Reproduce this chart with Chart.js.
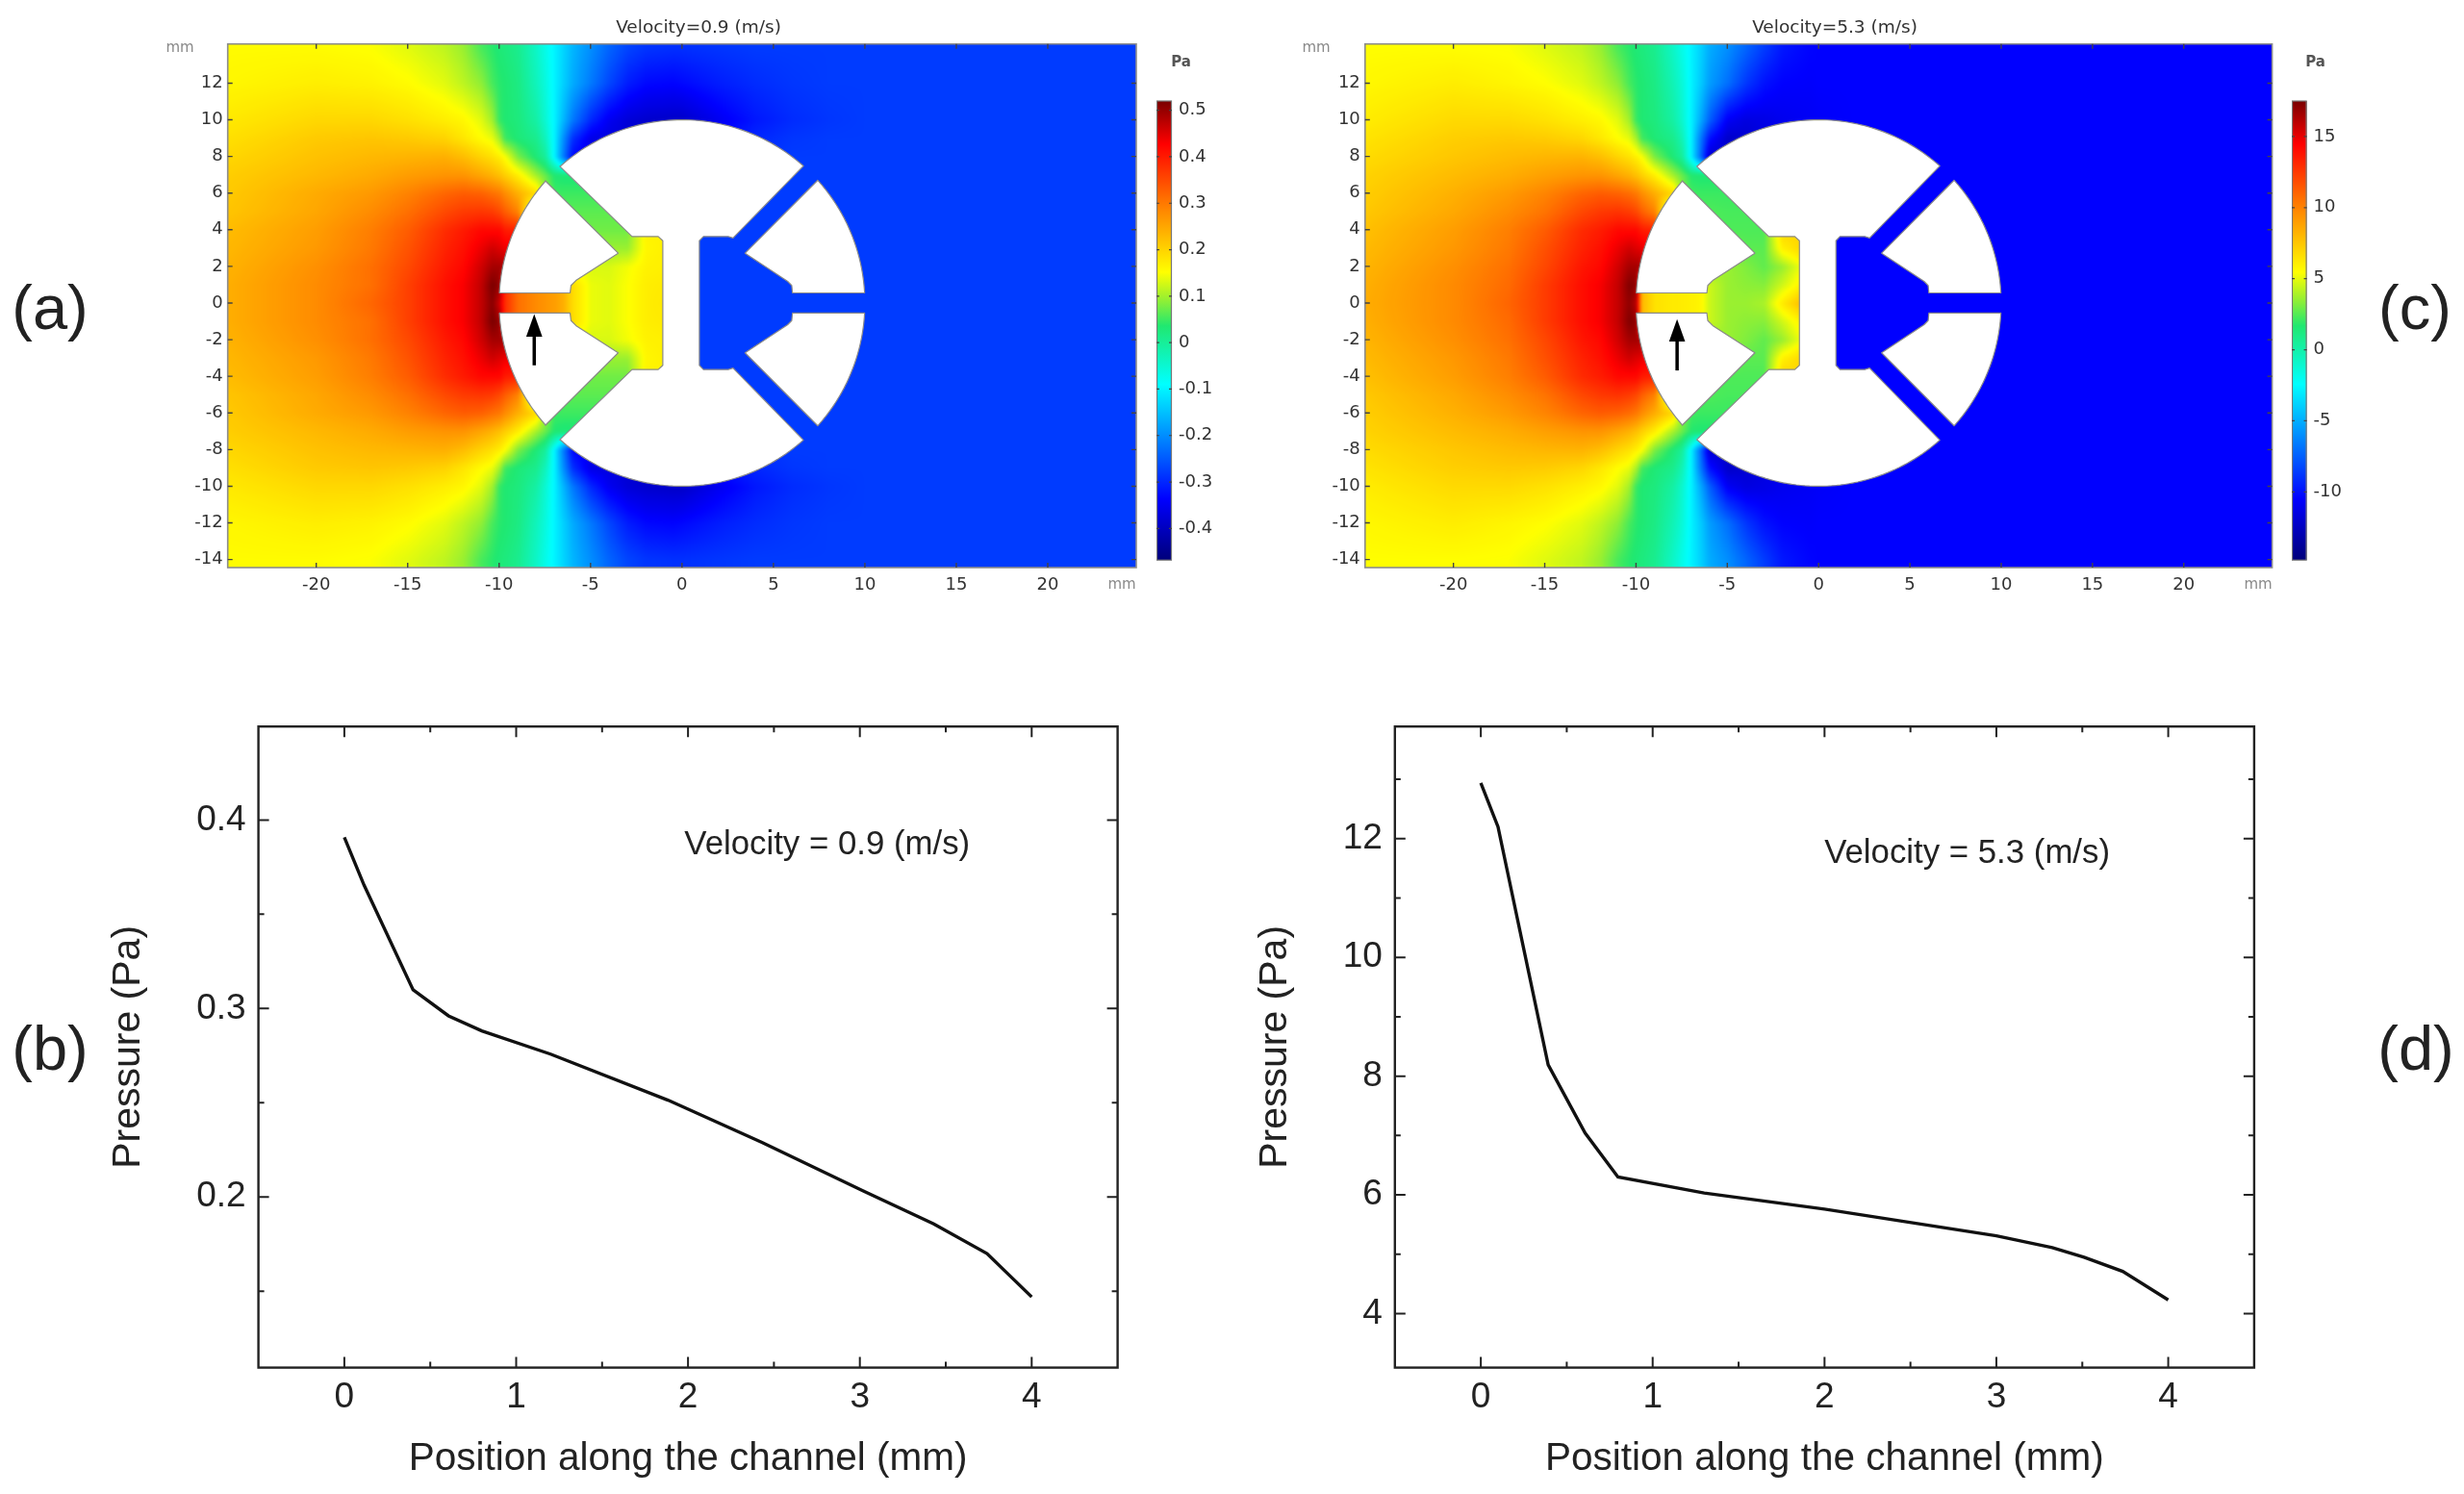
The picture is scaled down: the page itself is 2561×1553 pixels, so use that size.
<!DOCTYPE html>
<html>
<head>
<meta charset="utf-8">
<title>Pressure field and channel pressure</title>
<script src="https://cdn.jsdelivr.net/npm/chart.js@4"></script>
<style>
html,body{margin:0;padding:0;background:#fff;width:2561px;height:1553px;overflow:hidden}
canvas{position:absolute;filter:blur(0.6px)}
.panel{position:absolute;font:65px "Liberation Sans",Arial,sans-serif;color:#222;transform:translate(-50%,-50%);filter:blur(0.5px);white-space:nowrap}
</style>
</head>
<body>
<canvas id="chartA"></canvas><canvas id="barA"></canvas>
<canvas id="chartC"></canvas><canvas id="barC"></canvas>
<canvas id="chartB"></canvas><canvas id="chartD"></canvas>
<div class="panel" style="left:52px;top:319px">(a)</div>
<div class="panel" style="left:52px;top:1089px">(b)</div>
<div class="panel" style="left:2510px;top:319px">(c)</div>
<div class="panel" style="left:2511px;top:1089px">(d)</div>
<script>
// ---- line plots: values ----
const positionB = [0, 0.114, 0.40, 0.606, 0.80, 1.20, 1.883, 2.43, 3.02, 3.43, 3.74, 4.0];
const pressureB = [0.3908, 0.3656, 0.3099, 0.2961, 0.2881, 0.2758, 0.2514, 0.2290, 0.2032, 0.1857, 0.1700, 0.1470];
const positionD = [0, 0.10, 0.392, 0.607, 0.798, 1.30, 2.0, 3.0, 3.325, 3.51, 3.735, 4.0];
const pressureD = [12.94, 12.2, 8.19, 7.04, 6.30, 6.03, 5.76, 5.31, 5.11, 4.95, 4.71, 4.23];
const linePosTicks = [0, 1, 2, 3, 4];
const linePosMinor = [0.5, 1.5, 2.5, 3.5];
const pressureTicksB = [0.2, 0.3, 0.4];
const pressureMinorB = [0.15, 0.25, 0.35];
const pressureTicksD = [4, 6, 8, 10, 12];
const pressureMinorD = [5, 7, 9, 11, 13];

// ---- field maps: tick labels ----
const fieldXTicks = [-20, -15, -10, -5, 0, 5, 10, 15, 20];
const fieldYTicks = [-14, -12, -10, -8, -6, -4, -2, 0, 2, 4, 6, 8, 10, 12];
const barTicksA = [-0.4, -0.3, -0.2, -0.1, 0, 0.1, 0.2, 0.3, 0.4, 0.5];
const barTicksC = [-10, -5, 0, 5, 10, 15];

// ---- field maps: pressure (Pa) estimated by colour at these sample positions (mm), mirrored about y = 0 ----
const sampleX = [-25,-20,-17,-15,-13,-12,-11,-10.4,-10,-9.7,-9,-8,-7.5,-7,-6.5,-6,-5,-4,-3,-2,-0.5,0,2,4,6,8,10,25];
const sampleY = [0,1,2,3,4,5,6,7,8,9,10,12,14];
const fieldA = [
[.24,.28,.32,.36,.41,.43,.47,.51,.46,.38,.31,.28,.27,.26,.24,.19,.14,.135,.15,.17,.18,-.28,-.28,-.28,-.28,-.28,-.28,-.28],
[.24,.28,.31,.36,.41,.43,.47,.52,.50,.38,.31,.28,.27,.26,.24,.19,.14,.135,.15,.17,.175,-.28,-.28,-.28,-.28,-.28,-.28,-.28],
[.235,.275,.31,.35,.40,.42,.46,.49,.49,.49,.30,.28,.27,.26,.22,.14,.13,.13,.145,.165,.17,-.28,-.28,-.28,-.28,-.28,-.28,-.28],
[.23,.265,.30,.34,.39,.41,.44,.46,.45,.44,.43,.13,.13,.13,.13,.13,.10,.095,.095,.16,.17,-.28,-.28,-.28,-.28,-.28,-.28,-.28],
[.225,.26,.295,.33,.38,.40,.42,.42,.42,.40,.39,.075,.075,.075,.075,.075,.075,.075,.075,.165,.165,-.28,-.28,-.28,-.28,-.28,-.28,-.28],
[.215,.25,.28,.31,.35,.365,.37,.365,.35,.33,.29,.065,.065,.065,.065,.065,.065,.065,.065,.065,.065,-.28,-.28,-.28,-.28,-.28,-.28,-.28],
[.21,.245,.265,.29,.32,.33,.325,.31,.30,.28,.24,.19,.10,.05,.05,.05,.05,.05,.05,.05,.05,-.28,-.28,-.28,-.28,-.28,-.28,-.28],
[.205,.23,.245,.26,.27,.27,.25,.235,.22,.205,.17,.10,.07,.035,.03,.03,.03,.03,.03,.03,.03,-.28,-.28,-.28,-.28,-.28,-.28,-.28],
[.195,.22,.23,.235,.24,.225,.20,.185,.17,.15,.08,.03,.00,-.10,-.22,-.33,-.36,-.38,-.38,-.38,-.38,-.38,-.30,-.29,-.28,-.28,-.28,-.28],
[.185,.21,.215,.21,.20,.18,.155,.14,.10,.05,.03,.01,-.03,-.10,-.20,-.29,-.36,-.37,-.38,-.38,-.38,-.38,-.32,-.30,-.285,-.28,-.28,-.28],
[.175,.195,.195,.185,.17,.16,.135,.10,.045,.035,.025,-.01,-.05,-.10,-.16,-.22,-.30,-.35,-.375,-.385,-.39,-.39,-.35,-.315,-.295,-.285,-.28,-.28],
[.16,.17,.165,.155,.135,.115,.09,.055,.04,.035,.02,-.03,-.06,-.10,-.135,-.17,-.22,-.27,-.31,-.33,-.335,-.33,-.31,-.295,-.285,-.28,-.28,-.28],
[.155,.155,.15,.135,.115,.095,.055,.04,.03,.025,.01,-.04,-.07,-.10,-.13,-.16,-.20,-.24,-.27,-.285,-.29,-.29,-.285,-.28,-.28,-.28,-.28,-.28]
];
const fieldC = [
[8.4,9.7,11,12.4,14,14.6,15.8,17,16,8,6.5,6.2,6.1,6,5.8,4.5,3.6,3.6,3.9,6.2,8.6,-10.5,-10.5,-10.5,-10.5,-10.5,-10.5,-10.5],
[8.3,9.7,10.8,12.4,14,14.6,15.8,17.3,17,8,6.5,6.2,6.1,6,5.8,4.5,3.6,3.4,3.3,4.6,6.5,-10.5,-10.5,-10.5,-10.5,-10.5,-10.5,-10.5],
[8.1,9.5,10.6,12,13.7,14.2,15.5,16.5,16.5,16.5,5,5,5,5,4.5,3.6,3.6,3.2,2.7,3.6,6,-10.5,-10.5,-10.5,-10.5,-10.5,-10.5,-10.5],
[7.9,9.2,10.3,11.7,13.3,13.9,14.9,15.5,15.2,15,14.5,3,3,3,3,3,3,2.6,2.6,6,7.2,-10.5,-10.5,-10.5,-10.5,-10.5,-10.5,-10.5],
[7.7,9,10.1,11.3,13,13.5,14.2,14.2,14.2,13.6,13.2,2.4,2.4,2.4,2.4,2.4,2.4,2.4,2.4,7,7.2,-10.5,-10.5,-10.5,-10.5,-10.5,-10.5,-10.5],
[7.4,8.6,9.6,10.5,12,12.5,12.7,12.4,12,11.2,10,2.4,2.4,2.4,2.4,2.4,2.3,2.3,2.3,2.3,2.3,-10.5,-10.5,-10.5,-10.5,-10.5,-10.5,-10.5],
[7.2,8.3,9.1,9.9,11,11.3,11.1,10.7,10.3,9.6,8.4,6.8,3.5,2.2,2.1,2.1,2.1,2.1,2.1,2.1,2.1,-10.5,-10.5,-10.5,-10.5,-10.5,-10.5,-10.5],
[7,7.9,8.4,8.9,9.3,9.3,8.7,8.2,7.7,7.1,6,3.8,2.8,1.7,1.6,1.6,1.6,1.6,1.6,1.6,1.6,-10.5,-10.5,-10.5,-10.5,-10.5,-10.5,-10.5],
[6.7,7.5,7.9,8.1,8.2,7.8,7,6.5,6,5.4,3.1,1.5,.5,-2.8,-7,-12,-12,-12,-11,-11,-11,-10.7,-10.5,-10.5,-10.5,-10.5,-10.5,-10.5],
[6.4,7.2,7.4,7.3,6.9,6.3,5.5,5,3.8,2.2,1.5,.9,-.3,-2.8,-6.5,-10,-12.2,-12,-11.5,-11,-10.8,-10.7,-10.5,-10.5,-10.5,-10.5,-10.5,-10.5],
[6.1,6.8,6.8,6.5,6,5.7,4.9,3.8,2,1.6,1.3,.2,-1,-2.8,-5,-7.5,-10.8,-11.5,-11.3,-11,-10.8,-10.7,-10.5,-10.5,-10.5,-10.5,-10.5,-10.5],
[5.7,6.1,5.8,5.5,4.9,4.3,3.4,2.3,1.8,1.6,1.1,-.3,-1.3,-2.8,-4,-5.5,-7,-8.8,-10,-10.5,-10.6,-10.5,-10.5,-10.5,-10.5,-10.5,-10.5,-10.5],
[5.5,5.5,5.4,4.9,4.3,3.6,2.3,1.8,1.5,1.3,.8,-.8,-1.8,-2.8,-3.8,-5,-6,-7.3,-8.6,-9.8,-10.4,-10.5,-10.5,-10.5,-10.5,-10.5,-10.5,-10.5]
];
const barRangeA = [-0.468, 0.52];
const barRangeC = [-14.8, 17.5];

// ---- rainbow colour table ----
const cmapPos = [0, 0.133, 0.383, 0.51, 0.57, 0.627, 0.77, 0.906, 1];
const cmapCol = ['#00007a', '#0000ff', '#00ffff', '#20e870', '#9af030', '#ffff00', '#ff8000', '#ff0000', '#7a0000'];

// ---- device outline in mm (white solid parts) ----
const centreSolidTop = [[-6.68,7.46],[-2.73,3.63],[-1.3,3.63],[-1.05,3.4],[-1.05,-3.4],[-1.3,-3.63],[-2.73,-3.63],[-6.68,-7.46]];
const centreSolidBottom = [[6.62,-7.46],[2.79,-3.55],[2.53,-3.63],[1.17,-3.63],[0.95,-3.4],[0.95,3.4],[1.17,3.63],[2.53,3.63],[2.79,3.55],[6.62,7.46]];
const leftSector = [[-7.47,6.67],[-3.49,2.72],[-5.8,1.23],[-6.07,0.96],[-6.12,0.55],[-9.98,0.55]];
const rightSector = [[7.39,6.67],[3.45,2.72],[5.78,1.18],[6.0,0.96],[6.04,0.55],[9.98,0.55]];
const arrowA = {x:-8.08, tip:-0.61, neck:-1.84, tail:-3.4, half:0.44};
const arrowC = {x:-7.75, tip:-0.88, neck:-2.1, tail:-3.68, half:0.44};

const SANS = '"Liberation Sans", Arial, sans-serif';
const DEJA = '"DejaVu Sans", sans-serif';

function hex(c){return [1,3,5].map(i=>parseInt(c.substr(i,2),16));}
const LUT = (function(){
  const n=1024, out=new Uint8ClampedArray(n*3);
  for(let i=0;i<n;i++){
    const t=i/(n-1); let k=0;
    while(k<cmapPos.length-2 && t>cmapPos[k+1])k++;
    const f=(t-cmapPos[k])/(cmapPos[k+1]-cmapPos[k]);
    const a=hex(cmapCol[k]),b=hex(cmapCol[k+1]);
    for(let j=0;j<3;j++)out[i*3+j]=a[j]+(b[j]-a[j])*f;
  }
  return out;
})();
function locate(arr,v){
  if(v<=arr[0])return [0,0];
  if(v>=arr[arr.length-1])return [arr.length-2,1];
  let i=0; while(v>arr[i+1])i++;
  return [i,(v-arr[i])/(arr[i+1]-arr[i])];
}
function text(ctx,s,x,y,font,color,align){
  ctx.save();ctx.font=font;ctx.fillStyle=color;ctx.textAlign=align||'center';ctx.textBaseline='middle';
  ctx.fillText(s,x,y);ctx.restore();
}
function placeCanvas(id,l,t,r,b){
  const c=document.getElementById(id);
  c.width=Math.round(r-l);c.height=Math.round(b-t);
  c.style.left=l+'px';c.style.top=t+'px';c.style.width=c.width+'px';c.style.height=c.height+'px';
  return c;
}
function setTicks(arr){return s=>{s.ticks=arr.map(v=>({value:v}));};}
function innerTicks(ctx,ca,xs,ys,sx,sy,len,width,color){
  ctx.save();ctx.strokeStyle=color;ctx.lineWidth=width;ctx.beginPath();
  xs.forEach(v=>{const p=sx.getPixelForValue(v);
    ctx.moveTo(p,ca.top);ctx.lineTo(p,ca.top+len);ctx.moveTo(p,ca.bottom);ctx.lineTo(p,ca.bottom-len);});
  ys.forEach(v=>{const p=sy.getPixelForValue(v);
    ctx.moveTo(ca.left,p);ctx.lineTo(ca.left+len,p);ctx.moveTo(ca.right,p);ctx.lineTo(ca.right-len,p);});
  ctx.stroke();ctx.restore();
}

// ---- field map panel ----
function fieldChart(cfg){
  const range=cfg.range, span=range[1]-range[0];
  const plugin={
    id:'field',
    beforeDatasetsDraw(chart){
      const ctx=chart.ctx, ca=chart.chartArea, sx=chart.scales.x, sy=chart.scales.y, m=10;
      const w=Math.round(ca.width)+2*m, h=Math.round(ca.height)+2*m;
      const off=document.createElement('canvas');off.width=w;off.height=h;
      const oc=off.getContext('2d'), img=oc.createImageData(w,h);
      const colLoc=[];for(let i=0;i<w;i++)colLoc.push(locate(sampleX,sx.getValueForPixel(ca.left-m+i)));
      for(let j=0;j<h;j++){
        const ly=locate(sampleY,Math.abs(sy.getValueForPixel(ca.top-m+j)));
        const r0=cfg.field[ly[0]], r1=cfg.field[ly[0]+1];
        for(let i=0;i<w;i++){
          const c=colLoc[i], a=r0[c[0]]+(r0[c[0]+1]-r0[c[0]])*c[1], b=r1[c[0]]+(r1[c[0]+1]-r1[c[0]])*c[1];
          const v=a+(b-a)*ly[1];
          const t=Math.max(0,Math.min(1023,Math.round((v-range[0])/span*1023)));
          const o=(j*w+i)*4;
          img.data[o]=LUT[t*3];img.data[o+1]=LUT[t*3+1];img.data[o+2]=LUT[t*3+2];img.data[o+3]=255;
        }
      }
      oc.putImageData(img,0,0);
      ctx.save();ctx.beginPath();ctx.rect(ca.left,ca.top,ca.width,ca.height);ctx.clip();
      ctx.filter='blur(1.5px)';ctx.drawImage(off,ca.left-m,ca.top-m);ctx.restore();
      // white solid parts of the device, in mm through the scales
      const arc=(d0,d1)=>{const o=[];const n=60;for(let i=0;i<=n;i++){const d=(d0+(d1-d0)*i/n)*Math.PI/180;o.push([10*Math.cos(d),10*Math.sin(d)]);}return o;};
      const flip=(pts,fx,fy)=>pts.map(p=>[p[0]*fx,p[1]*fy]);
      const polys=[
        arc(48.4,131.8).concat(centreSolidTop,arc(228.2,311.6),centreSolidBottom),
        leftSector.concat(arc(176.8,138.2)),
        flip(leftSector.concat(arc(176.8,138.2)),1,-1),
        rightSector.concat(arc(3.2,42.1)),
        flip(rightSector.concat(arc(3.2,42.1)),1,-1)
      ];
      ctx.save();ctx.fillStyle='#ffffff';ctx.strokeStyle='#8a8a8a';ctx.lineWidth=1.2;ctx.lineJoin='round';
      polys.forEach(P=>{ctx.beginPath();P.forEach((p,i)=>{const X=sx.getPixelForValue(p[0]),Y=sy.getPixelForValue(p[1]);i?ctx.lineTo(X,Y):ctx.moveTo(X,Y);});ctx.closePath();ctx.fill();ctx.stroke();});
      ctx.restore();
      // arrow
      const A=cfg.arrow, ax=sx.getPixelForValue(A.x);
      ctx.save();ctx.strokeStyle='#000';ctx.fillStyle='#000';ctx.lineWidth=3.5;
      ctx.beginPath();ctx.moveTo(ax,sy.getPixelForValue(A.neck));ctx.lineTo(ax,sy.getPixelForValue(A.tail));ctx.stroke();
      ctx.beginPath();ctx.moveTo(ax,sy.getPixelForValue(A.tip));
      ctx.lineTo(sx.getPixelForValue(A.x+A.half),sy.getPixelForValue(A.neck));
      ctx.lineTo(sx.getPixelForValue(A.x-A.half),sy.getPixelForValue(A.neck));ctx.closePath();ctx.fill();ctx.restore();
      // frame
      ctx.save();ctx.strokeStyle='#8c8c8c';ctx.lineWidth=1.6;ctx.strokeRect(ca.left,ca.top,ca.width,ca.height);ctx.restore();
      innerTicks(ctx,ca,fieldXTicks,fieldYTicks,sx,sy,5,1.4,'#444');
    },
    afterDraw(chart){
      const ctx=chart.ctx, o=cfg.canvas[0];
      text(ctx,cfg.title,cfg.titleX-o,29,'18.5px '+DEJA,'#333');
      text(ctx,'mm',cfg.mmTopX-o,50,'15px '+DEJA,'#8a8a8a');
      text(ctx,'mm',cfg.mmBotX-o,608,'15px '+DEJA,'#8a8a8a');
    }
  };
  const c=placeCanvas(cfg.id,...cfg.canvas);
  return new Chart(c,{
    type:'scatter',
    data:{datasets:[{label:cfg.title,data:[],pointRadius:0}]},
    plugins:[plugin],
    options:{
      responsive:false,animation:false,devicePixelRatio:1,
      layout:{padding:{left:0,top:cfg.top-cfg.canvas[1],right:cfg.canvas[2]-cfg.right,bottom:0}},
      plugins:{legend:{display:false},tooltip:{enabled:false},title:{display:false}},
      scales:{
        x:{type:'linear',min:-24.84,max:24.84,grid:{display:false,drawTicks:false},border:{display:false},
           afterBuildTicks:setTicks(fieldXTicks),afterFit:s=>{s.height=cfg.canvas[3]-cfg.bottom;},
           ticks:{autoSkip:false,maxRotation:0,padding:8,color:'#333',font:{family:DEJA,size:18},callback:v=>String(v)}},
        y:{type:'linear',min:-14.44,max:14.14,grid:{display:false,drawTicks:false},border:{display:false},
           afterBuildTicks:setTicks(fieldYTicks),afterFit:s=>{s.width=cfg.left-cfg.canvas[0];},
           ticks:{autoSkip:false,padding:5,color:'#333',font:{family:DEJA,size:18},callback:v=>String(v)}}
      }
    }
  });
}

// ---- colour bar: one floating bar, filled from the colour table through its own value axis ----
function colourBar(id,box,range,ticks,unitX){
  const c=placeCanvas(id,box[0],45,box[2],600);
  const plugin={id:'barframe',
    afterDatasetsDraw(chart){
      const ctx=chart.ctx,ca=chart.chartArea,sy=chart.scales.y;
      ctx.save();ctx.strokeStyle='#777';ctx.lineWidth=1.2;ctx.strokeRect(ca.left+0.5,ca.top,ca.width-1,ca.height);
      ctx.strokeStyle='#444';ctx.lineWidth=1.2;ctx.beginPath();
      ticks.forEach(v=>{const p=sy.getPixelForValue(v);ctx.moveTo(ca.left,p);ctx.lineTo(ca.left+3,p);ctx.moveTo(ca.right,p);ctx.lineTo(ca.right-3,p);});
      ctx.stroke();ctx.restore();
      text(ctx,'Pa',unitX-box[0],20.5,'bold 15px '+DEJA,'#555');
    }};
  return new Chart(c,{
    type:'bar',
    data:{labels:[''],datasets:[{data:[range],barPercentage:1,categoryPercentage:1,borderWidth:0,
      backgroundColor(ctx){
        const ch=ctx.chart;if(!ch.chartArea)return '#00f';
        const sy=ch.scales.y,g=ch.ctx.createLinearGradient(0,sy.getPixelForValue(range[0]),0,sy.getPixelForValue(range[1]));
        cmapPos.forEach((p,i)=>g.addColorStop(p,cmapCol[i]));return g;
      }}]},
    plugins:[plugin],
    options:{
      responsive:false,animation:false,devicePixelRatio:1,
      layout:{padding:{left:0,right:0,top:105-45,bottom:600-583}},
      plugins:{legend:{display:false},tooltip:{enabled:false}},
      scales:{
        x:{display:false,grid:{display:false}},
        y:{position:'right',type:'linear',min:range[0],max:range[1],grid:{display:false,drawTicks:false},border:{display:false},
           afterBuildTicks:setTicks(ticks),afterFit:s=>{s.width=box[2]-box[1];},
           ticks:{autoSkip:false,padding:7,color:'#333',font:{family:DEJA,size:18},callback:v=>String(v)}}
      }
    }
  });
}

// ---- line plot panel ----
function linePlot(cfg){
  const plugin={id:'frame',
    afterDatasetsDraw(chart){
      const ctx=chart.ctx,ca=chart.chartArea,sx=chart.scales.x,sy=chart.scales.y;
      innerTicks(ctx,ca,linePosTicks,cfg.yTicks,sx,sy,11,2,'#222');
      innerTicks(ctx,ca,linePosMinor,cfg.yMinor,sx,sy,6,2,'#222');
      ctx.save();ctx.strokeStyle='#222';ctx.lineWidth=2.4;ctx.strokeRect(ca.left,ca.top,ca.width,ca.height);ctx.restore();
      text(ctx,cfg.note,sx.getPixelForValue(cfg.noteAt[0]),sy.getPixelForValue(cfg.noteAt[1]),'34.8px '+SANS,'#222');
    }};
  const c=placeCanvas(cfg.id,...cfg.canvas);
  return new Chart(c,{
    type:'scatter',
    data:{datasets:[{label:cfg.note,showLine:true,data:cfg.xs.map((x,i)=>({x,y:cfg.ys[i]})),borderColor:'#111',borderWidth:3.4,pointRadius:0,tension:0,fill:false}]},
    plugins:[plugin],
    options:{
      responsive:false,animation:false,devicePixelRatio:1,
      layout:{padding:{left:0,top:cfg.top-cfg.canvas[1],right:cfg.canvas[2]-cfg.right,bottom:0}},
      plugins:{legend:{display:false},tooltip:{enabled:false}},
      scales:{
        x:{type:'linear',min:-0.5,max:4.5,grid:{display:false,drawTicks:false},border:{display:false},
           afterBuildTicks:setTicks(linePosTicks),afterFit:s=>{s.height=cfg.canvas[3]-cfg.bottom;},
           title:{display:true,text:'Position along the channel (mm)',color:'#222',font:{family:SANS,size:40.5},padding:0},
           ticks:{autoSkip:false,maxRotation:0,padding:9,color:'#222',font:{family:SANS,size:37},callback:v=>String(v)}},
        y:{type:'linear',min:cfg.yRange[0],max:cfg.yRange[1],grid:{display:false,drawTicks:false},border:{display:false},
           afterBuildTicks:setTicks(cfg.yTicks),afterFit:s=>{s.width=cfg.left-cfg.canvas[0];},
           title:{display:true,text:'Pressure (Pa)',color:'#222',font:{family:SANS,size:41},padding:0},
           ticks:{autoSkip:false,padding:13,color:'#222',font:{family:SANS,size:37},callback:v=>String(v)}}
      }
    }
  });
}

fieldChart({id:'chartA',canvas:[170,0,1190,625],left:236.7,top:45.7,right:1181,bottom:590,field:fieldA,range:barRangeA,arrow:arrowA,
  title:'Velocity=0.9 (m/s)',titleX:726,mmTopX:187,mmBotX:1166});
fieldChart({id:'chartC',canvas:[1352,0,2371,625],left:1418.8,top:45.7,right:2361.6,bottom:590,field:fieldC,range:barRangeC,arrow:arrowC,
  title:'Velocity=5.3 (m/s)',titleX:1907,mmTopX:1368,mmBotX:2347});
colourBar('barA',[1201.5,1217,1275],barRangeA,barTicksA,1227);
colourBar('barC',[2382,2397.6,2456],barRangeC,barTicksC,2406.5);
linePlot({id:'chartB',canvas:[109,720,1170,1541],left:268.6,top:754.5,right:1161.6,bottom:1421.6,xs:positionB,ys:pressureB,
  yRange:[0.1095,0.4496],yTicks:pressureTicksB,yMinor:pressureMinorB,note:'Velocity = 0.9 (m/s)',noteAt:[2.81,0.3867]});
linePlot({id:'chartD',canvas:[1301,720,2351,1541],left:1449.8,top:754.5,right:2342.9,bottom:1421.6,xs:positionD,ys:pressureD,
  yRange:[3.09,13.89],yTicks:pressureTicksD,yMinor:pressureMinorD,note:'Velocity = 5.3 (m/s)',noteAt:[2.83,11.75]});
</script>
</body>
</html>
